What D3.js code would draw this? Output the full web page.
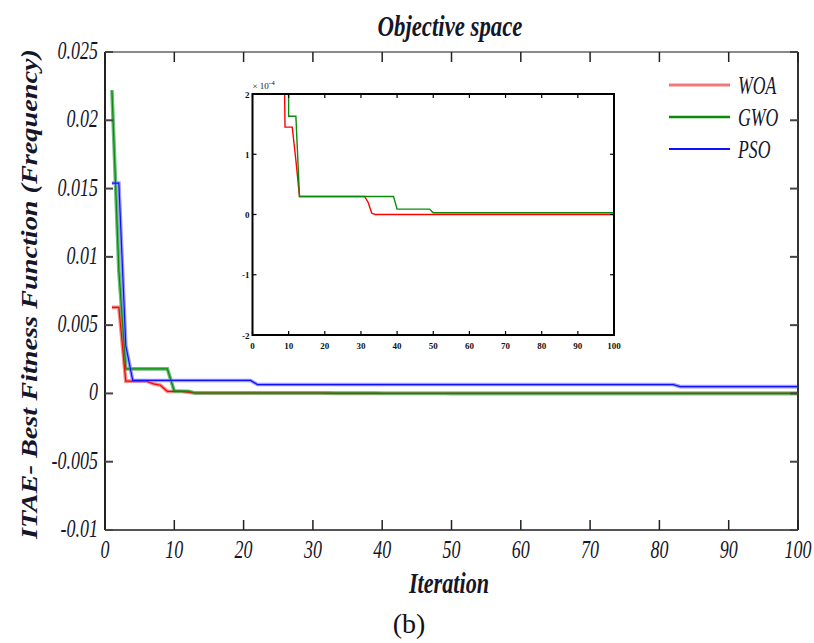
<!DOCTYPE html>
<html>
<head>
<meta charset="utf-8">
<script src="https://cdn.jsdelivr.net/npm/d3@7"></script>
<style>
  body { margin: 0; background: #fff; }
  text { font-family: "Liberation Serif", "DejaVu Serif", serif; }
</style>
</head>
<body>
<svg id="chart" width="814" height="643"></svg>
<script>
// best fitness per iteration, only the iterations where the curve changes
const woaIter = [1, 2, 3, 6, 7, 8, 9, 11, 12, 13, 31, 32, 33, 34, 100];
const woaVal  = [0.0063, 0.0063, 0.0009, 0.0009, 0.0007, 0.0006, 0.000145, 0.000145, 0.00009, 0.00003, 0.00003, 0.00002, 0.000002, 0, 0];
const gwoIter = [1, 2, 3, 9, 10, 12, 13, 39, 40, 49, 50, 100];
const gwoVal  = [0.0222, 0.009, 0.0018, 0.0018, 0.000163, 0.000163, 0.00003, 0.00003, 0.000009, 0.000009, 0.000003, 0.000003];
const psoIter = [1, 2, 3, 4, 21, 22, 82, 83, 100];
const psoVal  = [0.0154, 0.0154, 0.0035, 0.00095, 0.00095, 0.00065, 0.00065, 0.0005, 0.0005];

const seriesNames = ["WOA", "GWO", "PSO"];
const xTicks = [0, 10, 20, 30, 40, 50, 60, 70, 80, 90, 100];
const yTicks = [-0.01, -0.005, 0, 0.005, 0.01, 0.015, 0.02, 0.025];
const yTickLabels = ["-0.01", "-0.005", "0", "0.005", "0.01", "0.015", "0.02", "0.025"];
const insetYTicks = [-2, -1, 0, 1, 2];   // x 10^-4

const svg = d3.select("#chart");
const ink = "#16162a";

// series colours: thin strong line over a pale wide band, like the original bitmap
const styles = [
  { name: "WOA", strong: "#ff0000", pale: "#f07a7a" },
  { name: "GWO", strong: "#0a8a0a", pale: "#4cb060" },
  { name: "PSO", strong: "#1010ff", pale: "#8a8aff" }
];
const series = [
  woaIter.map((d, i) => [d, woaVal[i]]),
  gwoIter.map((d, i) => [d, gwoVal[i]]),
  psoIter.map((d, i) => [d, psoVal[i]])
];

// squeezed text, the figure was stretched vertically
function label(g, x, y, str, size, sx, anchor, weight) {
  return g.append("text")
    .attr("transform", "translate(" + x + "," + y + ") scale(" + sx + ",1)")
    .attr("text-anchor", anchor)
    .attr("font-size", size)
    .attr("font-style", "italic")
    .attr("font-weight", weight || "normal")
    .attr("fill", ink)
    .text(str);
}

// ---------- main plot ----------
const L = 105, R = 798, T = 52, B = 530;
const x = d3.scaleLinear().domain([0, 100]).range([L, R]);
const y = d3.scaleLinear().domain([-0.01, 0.025]).range([B, T]);

const line = d3.line().x(d => x(d[0])).y(d => y(d[1]));

series.forEach((s, i) => {
  svg.append("path").attr("d", line(s)).attr("fill", "none")
    .attr("stroke", styles[i].pale).attr("stroke-width", 3.6).attr("stroke-opacity", 0.85);
});
series.forEach((s, i) => {
  svg.append("path").attr("d", line(s)).attr("fill", "none")
    .attr("stroke", styles[i].strong).attr("stroke-width", 1.2);
});

// box and inward ticks
svg.append("line").attr("x1", L).attr("x2", R).attr("y1", T).attr("y2", T).attr("stroke", "#8a8a8a").attr("stroke-width", 2);
svg.append("line").attr("x1", R).attr("x2", R).attr("y1", T).attr("y2", B).attr("stroke", "#333").attr("stroke-width", 2);
svg.append("line").attr("x1", L).attr("x2", L).attr("y1", T).attr("y2", B).attr("stroke", "#222").attr("stroke-width", 2);
svg.append("line").attr("x1", L).attr("x2", R).attr("y1", B).attr("y2", B).attr("stroke", "#555").attr("stroke-width", 2);

xTicks.forEach(t => {
  svg.append("line").attr("x1", x(t)).attr("x2", x(t)).attr("y1", B).attr("y2", B - 10).attr("stroke", "#222").attr("stroke-width", 1.5);
  svg.append("line").attr("x1", x(t)).attr("x2", x(t)).attr("y1", T).attr("y2", T + 10).attr("stroke", "#222").attr("stroke-width", 1.5);
  label(svg, x(t), B + 28, String(t), 25, 0.72, "middle");
});
yTicks.forEach((t, i) => {
  svg.append("line").attr("x1", L).attr("x2", L + 8).attr("y1", y(t)).attr("y2", y(t)).attr("stroke", "#444").attr("stroke-width", 2);
  svg.append("line").attr("x1", R).attr("x2", R - 8).attr("y1", y(t)).attr("y2", y(t)).attr("stroke", "#444").attr("stroke-width", 2);
  label(svg, 98, y(t) + 7, yTickLabels[i], 25, 0.72, "end");
});

// titles
label(svg, 450, 36, "Objective space", 30, 0.76, "middle", "bold");
label(svg, 449, 593, "Iteration", 30, 0.74, "middle", "bold");
svg.append("text")
  .attr("transform", "translate(37,294) rotate(-90)")
  .attr("text-anchor", "middle")
  .attr("font-size", 24)
  .attr("font-style", "italic")
  .attr("font-weight", "bold")
  .attr("fill", ink)
  .attr("textLength", 490)
  .attr("lengthAdjust", "spacingAndGlyphs")
  .text("ITAE-  Best  Fitness  Function  (Frequency)");
svg.append("text").attr("x", 409).attr("y", 633).attr("text-anchor", "middle")
  .attr("font-size", 28).attr("fill", "#111").text("(b)");

// legend
const legY = [85, 117, 149];
const legW = [3.2, 2.4, 1.8];
styles.forEach((s, i) => {
  svg.append("line").attr("x1", 669).attr("x2", 730).attr("y1", legY[i]).attr("y2", legY[i])
    .attr("stroke", i === 0 ? s.pale : s.strong).attr("stroke-width", legW[i]);
  label(svg, 738, legY[i] + 9, seriesNames[i], 26, 0.68, "start");
});

// ---------- inset ----------
const iL = 252.5, iR = 614, iT = 94, iB = 335;
const ix = d3.scaleLinear().domain([0, 100]).range([iL, iR]);
const iy = d3.scaleLinear().domain([-2e-4, 2e-4]).range([iB, iT]);

const inset = svg.append("g");
inset.append("rect").attr("x", iL).attr("y", iT).attr("width", iR - iL).attr("height", iB - iT).attr("fill", "#fff");
svg.append("clipPath").attr("id", "insetClip")
  .append("rect").attr("x", iL).attr("y", iT).attr("width", iR - iL).attr("height", iB - iT);

const iline = d3.line().x(d => ix(d[0])).y(d => iy(d[1]));
const insetLines = inset.append("g").attr("clip-path", "url(#insetClip)");
series.forEach((s, i) => {
  insetLines.append("path").attr("d", iline(s)).attr("fill", "none")
    .attr("stroke", styles[i].strong).attr("stroke-width", 1.4);
});

inset.append("rect").attr("x", iL).attr("y", iT).attr("width", iR - iL).attr("height", iB - iT)
  .attr("fill", "none").attr("stroke", "#000").attr("stroke-width", 2);

xTicks.forEach(t => {
  inset.append("line").attr("x1", ix(t)).attr("x2", ix(t)).attr("y1", iB).attr("y2", iB - 4).attr("stroke", "#000").attr("stroke-width", 1.2);
  inset.append("line").attr("x1", ix(t)).attr("x2", ix(t)).attr("y1", iT).attr("y2", iT + 4).attr("stroke", "#000").attr("stroke-width", 1.2);
  inset.append("text").attr("x", ix(t)).attr("y", iB + 14).attr("text-anchor", "middle")
    .attr("font-size", 9).attr("font-weight", "bold").attr("font-family", "DejaVu Sans, sans-serif")
    .attr("fill", "#111").text(t);
});
insetYTicks.forEach(t => {
  inset.append("line").attr("x1", iL).attr("x2", iL + 4).attr("y1", iy(t * 1e-4)).attr("y2", iy(t * 1e-4)).attr("stroke", "#000").attr("stroke-width", 1.2);
  inset.append("line").attr("x1", iR).attr("x2", iR - 4).attr("y1", iy(t * 1e-4)).attr("y2", iy(t * 1e-4)).attr("stroke", "#000").attr("stroke-width", 1.2);
  inset.append("text").attr("x", iL - 3).attr("y", iy(t * 1e-4) + 3.5).attr("text-anchor", "end")
    .attr("font-size", 9).attr("font-weight", "bold").attr("font-family", "DejaVu Sans, sans-serif")
    .attr("fill", "#111").text(t);
});
const expo = inset.append("text").attr("x", iL).attr("y", iT - 5)
  .attr("font-size", 9).attr("font-family", "DejaVu Sans, sans-serif").attr("fill", "#111");
expo.append("tspan").text("\u00d7 10");
expo.append("tspan").attr("dy", -4).attr("font-size", 7).text("-4");
</script>
</body>
</html>
